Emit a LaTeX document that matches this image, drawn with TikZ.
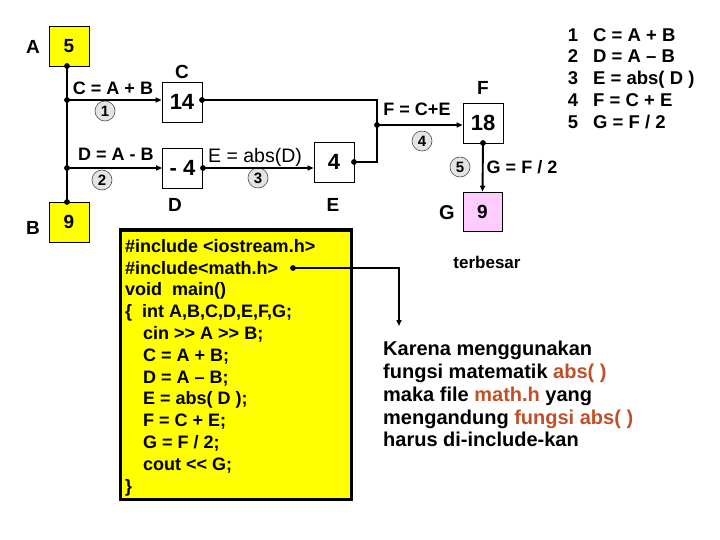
\documentclass[tikz,border=0pt]{standalone}
\usepackage{fontspec}
\setmainfont{Liberation Sans}
\usetikzlibrary{arrows.meta}
\definecolor{yel}{RGB}{255,255,0}
\definecolor{pinkbox}{RGB}{255,204,255}
\definecolor{circgray}{RGB}{228,228,228}
\definecolor{brownred}{RGB}{192,80,40}
\begin{document}
\begin{tikzpicture}[x=1pt,y=-1pt,
 valbox/.style={draw=black,line width=0.8pt,minimum width=40pt,minimum height=40pt,inner sep=0pt,font=\fontsize{22}{22}\selectfont\bfseries},
 lab/.style={inner sep=0pt,font=\fontsize{18}{18}\selectfont\bfseries},
 biglab/.style={inner sep=0pt,font=\fontsize{19}{19}\selectfont\bfseries},
 numc/.style={circle,draw=black!70,line width=0.6pt,fill=circgray,minimum size=20pt,inner sep=0pt,font=\fontsize{15}{15}\selectfont\bfseries},
 wire/.style={line width=1.9pt},
 arr/.style={wire,-{Triangle[length=6pt,width=5pt]}},
 codeline/.style={anchor=base west,inner sep=0pt,font=\fontsize{18}{18}\selectfont\bfseries},
 legline/.style={inner sep=0pt,font=\fontsize{18.5}{18.5}\selectfont\bfseries},
 txtline/.style={anchor=base west,inner sep=0pt,font=\fontsize{20}{20}\selectfont\bfseries}
]
\useasboundingbox (0,0) rectangle (720,540);

% value boxes
\node[valbox,fill=yel,font=\fontsize{19}{19}\selectfont\bfseries] (A) at (69,46) {5};
\node[valbox,fill=yel,font=\fontsize{19}{19}\selectfont\bfseries] (B) at (69,222) {9};
\node[valbox] (C) at (182,102) {14};
\node[valbox] (D) at (182.5,168) {- 4};
\node[valbox] (E) at (334,162) {4};
\node[valbox] (F) at (483,123) {18};
\node[valbox,fill=pinkbox,minimum width=39pt,minimum height=39pt,font=\fontsize{19}{19}\selectfont\bfseries] (G) at (482.5,211.5) {9};

% name labels
\node[biglab] (lA) at (33,47) {A};
\node[biglab] (lB) at (33,228) {B};
\node[biglab] (lC) at (182,72) {C};
\node[biglab] (lD) at (175,205) {D};
\node[biglab] (lE) at (333,205) {E};
\node[biglab] (lF) at (483,88) {F};
\node[inner sep=0pt,font=\fontsize{20}{20}\selectfont\bfseries] (lG) at (447,213) {G};

% formula labels
\node[lab] (fC) at (113,88) {C = A + B};
\node[lab] (fD) at (116,154) {D = A - B};
\node[inner sep=0pt,font=\fontsize{19.5}{19.5}\selectfont] (fE) at (255,157) {E = abs(D)};
\node[lab] (fF) at (417,109) {F = C+E};
\node[lab] (fG) at (522,167) {G = F / 2};

% step circles
\node[numc] (n1) at (105,111) {1};
\node[numc] (n2) at (102,180) {2};
\node[numc] (n3) at (258,178) {3};
\node[numc] (n4) at (422,141) {4};
\node[numc] (n5) at (460,167) {5};

% wiring coordinates
\coordinate (aBot) at (67,66);
\coordinate (bTop) at (67,202);
\coordinate (j1) at (67,100);
\coordinate (j2) at (67,168);
\coordinate (cOut) at (202,100);
\coordinate (cCorner) at (377,100);
\coordinate (eOut) at (354,162);
\coordinate (eCorner) at (377,162);
\coordinate (j4) at (377,125);
\coordinate (dOut) at (203,168);
\coordinate (fBot) at (483,143);

\draw[wire] (aBot) -- (bTop);
\draw[arr] (j1) -- (j1 -| C.west);
\draw[arr] (j2) -- (j2 -| D.west);
\draw[arr] (dOut) -- (dOut -| E.west);
\draw[wire] (cOut) -- (cCorner) -- (eCorner) -- (eOut);
\draw[arr] (j4) -- (j4 -| F.west);
\draw[arr] (fBot) -- (G.north);

\foreach \p in {aBot,bTop,j1,j2,cOut,eOut,j4,dOut,fBot}
  \fill (\p) circle (2.9pt);

% legend
\foreach \i/\t in {1/{C = A + B},2/{D = A – B},3/{E = abs( D )},4/{F = C + E},5/{G = F / 2}}{
  \node[legline,anchor=base] (legn\i) at (573,{34.7+6.5+(\i-1)*21.8}) {\i};
  \node[legline,anchor=base west] (lege\i) at (593,{34.7+6.5+(\i-1)*21.8}) {\t};
}

% code box
\node[draw=black,line width=3pt,fill=yel,minimum width=231pt,minimum height=269pt,inner sep=0pt] (code) at (235.5,364.5) {};
\node[codeline] (c1) at (125,252.3) {\#include <iostream.h>};
\node[codeline] (c2) at (125,274.1) {\#include<math.h>};
\node[codeline] (c3) at (125,295.9) {void\ \ main()};
\node[codeline] (c4) at (125,317.7) {\{\ \ int A,B,C,D,E,F,G;};
\node[codeline] (c5) at (143,339.5) {cin >\kern0pt> A >\kern0pt> B;};
\node[codeline] (c6) at (143,361.3) {C = A + B;};
\node[codeline] (c7) at (143,383.1) {D = A – B;};
\node[codeline] (c8) at (143,404.9) {E = abs( D );};
\node[codeline] (c9) at (143,426.7) {F = C + E;};
\node[codeline] (c10) at (143,448.5) {G = F / 2;};
\node[codeline] (c11) at (143,470.3) {cout <\kern0pt< G;};
\node[codeline] (c12) at (125,492.1) {\}};

\coordinate (mathDot) at (293,268);
\coordinate (mathCorner) at (399,268);
\coordinate (noteTop) at (399,326);
\fill (mathDot) circle (2.9pt);
\draw[arr] (mathDot) -- (mathCorner) -- (noteTop);

\node[inner sep=0pt,font=\fontsize{17}{17}\selectfont\bfseries] (terb) at (487,262) {terbesar};

\node[txtline] (k1) at (383,355.5) {Karena menggunakan};
\node[txtline] (k2) at (383,378.5) {fungsi matematik \textcolor{brownred}{abs( )}};
\node[txtline] (k3) at (383,401.2) {maka file \textcolor{brownred}{math.h} yang};
\node[txtline] (k4) at (383,424) {mengandung \textcolor{brownred}{fungsi abs( )}};
\node[txtline] (k5) at (383,446.7) {harus di-include-kan};
\end{tikzpicture}
\end{document}
